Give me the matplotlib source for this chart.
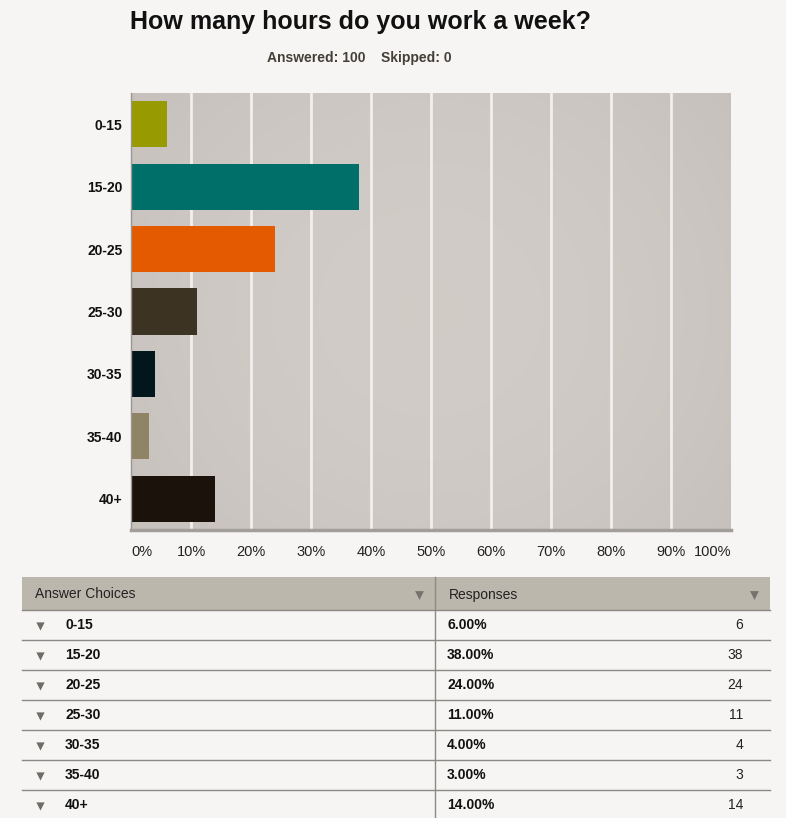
import matplotlib.pyplot as plt
import numpy as np
from matplotlib.patches import Rectangle

# survey data
choices = ['0-15', '15-20', '20-25', '25-30', '30-35', '35-40', '40+']
percents = [6, 38, 24, 11, 4, 3, 14]
counts = [6, 38, 24, 11, 4, 3, 14]
bar_colors = ['#979a00', '#006e69', '#e35a00', '#3d3323', '#03161c', '#8f8465', '#1b120b']
xtick_vals = list(range(0, 101, 10))
xtick_labels = [str(v) + '%' for v in xtick_vals]
title = 'How many hours do you work a week?'
subtitle = 'Answered: 100    Skipped: 0'

W, H = 786, 818
bg = '#f6f5f4'
plt.rcParams['font.family'] = ['Liberation Sans', 'DejaVu Sans']

fig = plt.figure(figsize=(W / 100, H / 100), dpi=100, facecolor=bg)

# chart area (pixels 131..731 x 93..530)
ax = fig.add_axes([131 / W, 1 - 530 / H, 600 / W, 437 / H])
ax.set_facecolor('#cbc7c3')
# soft gradient background
gx = np.linspace(-1, 1, 200)
gy = np.linspace(-1, 1, 100)
gxx, gyy = np.meshgrid(gx, gy)
shade = 1 - 0.5 * (gxx ** 2) - 0.3 * (gyy ** 2)
c0 = np.array([0.765, 0.745, 0.725])
c1 = np.array([0.820, 0.800, 0.780])
img = c0 + (c1 - c0) * shade[..., None]
ax.imshow(img, extent=(0, 100, 6.5, -0.5), aspect='auto', zorder=0, interpolation='bilinear')

for v in xtick_vals[1:-1]:
    ax.axvline(v, color='#f2efec', lw=2, zorder=1)

y = np.arange(len(choices))
ax.barh(y, percents, height=0.74, color=bar_colors, zorder=2)
ax.set_xlim(0, 100)
ax.set_ylim(6.5, -0.5)
ax.set_yticks(y)
ax.set_yticklabels(choices, fontsize=10, fontweight='bold', color='#111111')
ax.set_xticks(xtick_vals)
ax.set_xticklabels(xtick_labels, fontsize=10.5, color='#222222')
xl = ax.get_xticklabels()
xl[0].set_ha('left')
xl[-1].set_ha('right')
ax.tick_params(axis='both', length=0)
ax.tick_params(axis='x', pad=11)
ax.tick_params(axis='y', pad=6)
for s in ['top', 'right']:
    ax.spines[s].set_visible(False)
ax.spines['left'].set_color('#9a9692')
ax.spines['left'].set_linewidth(1)
ax.spines['bottom'].set_color('#a29e9a')
ax.spines['bottom'].set_linewidth(2.5)

# overlay in pixel coordinates for title and table
ov = fig.add_axes([0, 0, 1, 1])
ov.set_xlim(0, W)
ov.set_ylim(H, 0)
ov.axis('off')

ov.text(130, 22, title, fontsize=18, fontweight='bold', ha='left', va='center', color='#111111')
ov.text(359, 58, subtitle, fontsize=10, fontweight='bold', ha='center', va='center', color='#444038')

# table
tx0, tx1, tdiv = 22, 770, 435
hy0, hy1 = 577, 610
row_h = 30
ov.add_patch(Rectangle((tx0, hy0), tx1 - tx0, hy1 - hy0, facecolor='#bcb7ad', edgecolor='none'))
ov.plot([tx0, tx1], [hy1, hy1], color='#8a8680', lw=1)
ov.text(35, (hy0 + hy1) / 2 + 1, 'Answer Choices', fontsize=10, ha='left', va='center', color='#222222')
ov.text(449, (hy0 + hy1) / 2 + 1, 'Responses', fontsize=10, ha='left', va='center', color='#222222')
ov.scatter([419, 754], [(hy0 + hy1) / 2 + 1] * 2, marker='v', s=40, color='#77726b', linewidths=0)

for i, (c, p, n) in enumerate(zip(choices, percents, counts)):
    yc = hy1 + row_h * i + row_h / 2
    ov.scatter([40], [yc + 1], marker='v', s=35, color='#6f6b67', linewidths=0)
    ov.text(65, yc, c, fontsize=10, fontweight='bold', ha='left', va='center', color='#111111')
    ov.text(447, yc, '%.2f%%' % p, fontsize=10, fontweight='bold', ha='left', va='center', color='#111111')
    ov.text(743, yc, str(n), fontsize=10, ha='right', va='center', color='#222222')
    ov.plot([tx0, tx1], [hy1 + row_h * (i + 1)] * 2, color='#8d8985', lw=1)

ov.plot([tdiv, tdiv], [hy0, H], color='#8d8985', lw=1)

fig.savefig('out.png', dpi=100, facecolor=bg)
